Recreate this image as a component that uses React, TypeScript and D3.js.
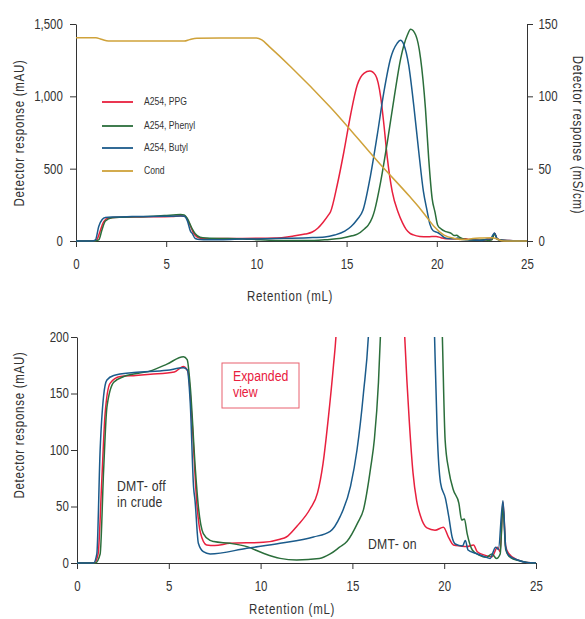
import React, { useEffect, useRef } from 'react';
import * as d3 from 'd3';

type Pt = [number, number];

// retention (mL), response (mAU)
const ppg: Pt[] = [
  [0, 0], [0.95, 0], [1.15, 8], [1.35, 73], [1.53, 132], [1.8, 159], [2.35, 165], [3.2, 166],
  [4.0, 167], [5.3, 169], [5.8, 174], [6.05, 169], [6.26, 127], [6.54, 50], [6.72, 27], [7.06, 16],
  [7.5, 15.5], [8.33, 17.4], [10.15, 18.3], [11.06, 21], [11.4, 23], [12.0, 33], [12.7, 48],
  [13.1, 62], [13.4, 88], [13.7, 130], [13.97, 175], [14.11, 202], [14.48, 387], [14.85, 617],
  [15.22, 871], [15.59, 1078], [15.96, 1159], [16.29, 1175], [16.6, 1147], [16.9, 986],
  [17.07, 802], [17.26, 571], [17.53, 341], [17.85, 200], [18.1, 125], [18.3, 80], [18.5, 55],
  [18.7, 42], [19.06, 31], [19.5, 29], [19.96, 31.6], [20.23, 23], [20.5, 16], [20.9, 15],
  [21.25, 14.5], [21.6, 16], [21.8, 10], [22.2, 7], [22.6, 5.6], [22.9, 14], [23.05, 10],
  [23.2, 54], [23.35, 15], [23.5, 8.8], [24.0, 2.7], [24.5, 0.5], [25, 0],
];

const phenyl: Pt[] = [
  [0, 0], [1.0, 0], [1.26, 8], [1.45, 82], [1.63, 138], [2.0, 160], [2.55, 165], [4.0, 170],
  [4.9, 176], [5.8, 182.6], [6.0, 180], [6.17, 156], [6.45, 82], [6.61, 50], [6.88, 26],
  [7.25, 20], [7.45, 19], [8.33, 17.4], [9.25, 14.5], [10.15, 8.6], [11.06, 4.1], [11.97, 2.7],
  [13.2, 4], [13.79, 8], [14.3, 14], [14.7, 19], [15.3, 36], [15.6, 47], [16.0, 85], [16.2, 110],
  [16.42, 160], [16.55, 210], [16.89, 410], [17.26, 686], [17.63, 986], [18.0, 1263],
  [18.37, 1424], [18.55, 1463], [18.83, 1424], [19.1, 1263], [19.37, 917], [19.55, 571],
  [19.74, 295], [19.9, 200], [20.05, 109], [20.25, 82], [20.5, 64.6], [20.8, 52.8], [20.95, 38],
  [21.1, 39], [21.25, 26], [21.53, 11.5], [21.9, 7], [22.3, 5], [22.6, 8], [22.85, 4],
  [23.05, 8], [23.2, 50], [23.35, 12], [23.6, 5], [24.1, 2], [24.6, 0.3], [25, 0],
];

const butyl: Pt[] = [
  [0, 0], [0.9, 0], [1.08, 8], [1.26, 100], [1.45, 148], [1.63, 162], [2.0, 166], [3.1, 168.5],
  [4.9, 170.5], [5.8, 172.7], [6.0, 171], [6.17, 141], [6.35, 67], [6.43, 55], [6.61, 17.4],
  [6.88, 10], [7.25, 8], [9.25, 13], [11.06, 17.4], [12.88, 23], [13.79, 28], [14.33, 41],
  [14.9, 68], [15.25, 100], [15.6, 150], [15.9, 210], [16.33, 456], [16.7, 733], [17.07, 1032],
  [17.44, 1263], [17.8, 1366], [17.98, 1387], [18.18, 1355], [18.44, 1217], [18.72, 940],
  [19.0, 617], [19.26, 341], [19.46, 210], [19.62, 115], [19.8, 71], [20.07, 57], [20.25, 41],
  [20.43, 23], [20.6, 16.8], [21.0, 15], [21.15, 20], [21.3, 11.5], [21.7, 8.6], [22.2, 5.6],
  [22.5, 4], [22.8, 14], [22.95, 12], [23.2, 55], [23.35, 14], [23.5, 7], [24.0, 2.7],
  [24.5, 0.5], [25, 0],
];

// conductivity (mS/cm)
const cond: Pt[] = [
  [0, 140.5], [1.1, 140.5], [1.4, 139.5], [1.8, 138.2], [6.0, 138.2], [6.3, 139.2], [6.7, 140.1],
  [8, 140.3], [10, 140.3], [10.3, 139], [10.7, 134.5], [11.9, 120.5], [14.1, 92.5], [16.9, 52.5],
  [18.5, 30.7], [19.1, 22], [19.5, 15.5], [19.85, 10], [20.4, 4.1], [20.96, 1.8], [21.6, 1],
  [22, 1.8], [22.5, 2.1], [23.1, 2.3], [23.3, 1.5], [23.7, 0], [25, 0],
];

const seriesNames = ['A254, PPG', 'A254, Phenyl', 'A254, Butyl', 'Cond'];
const seriesColors = ['#e8203e', '#2b6e3b', '#1b5b8b', '#cfa23a'];

const xTicks = [0, 5, 10, 15, 20, 25];
const topTicks = [0, 500, 1000, 1500];
const condTicks = [0, 50, 100, 150];
const bottomTicks = [0, 50, 100, 150, 200];

// Liberation Sans squeezed horizontally to stand in for a condensed face
const FONT = '"Liberation Sans", Arial, sans-serif';
const SQ = 0.82;
const INK = '#333';

const App = () => {
  const ref = useRef<SVGSVGElement>(null);

  useEffect(() => {
    const svg = d3.select(ref.current);
    svg.selectAll('*').remove();

    const styleAxis = (g: d3.Selection<SVGGElement, unknown, null, undefined>) => {
      g.attr('font-family', FONT).attr('font-size', 14);
      g.selectAll('path, line').attr('stroke', INK);
      g.selectAll('text').attr('fill', INK).attr('transform', `scale(${SQ},1)`);
    };

    const line = (x: d3.ScaleLinear<number, number>, y: d3.ScaleLinear<number, number>) =>
      d3.line<Pt>().x((d) => x(d[0])).y((d) => y(d[1])).curve(d3.curveMonotoneX);

    const label = (x: number, y: number, rot: number, text: string, size: number, color = INK, spacing = 0, anchor = 'start') =>
      svg
        .append('text')
        .attr('transform', `translate(${x},${y}) rotate(${rot}) scale(${SQ},1)`)
        .attr('text-anchor', anchor)
        .attr('dominant-baseline', 'middle')
        .attr('font-family', FONT)
        .attr('font-size', size)
        .attr('letter-spacing', spacing)
        .attr('fill', color)
        .text(text);

    const title = (x: number, y: number, rot: number, text: string) =>
      label(x, y, rot, text, 14, INK, 0.9, 'middle');

    // ---- top chart ----
    const x1 = d3.scaleLinear().domain([0, 25]).range([76, 527]);
    const y1 = d3.scaleLinear().domain([0, 1500]).range([241, 24]);
    const y1r = d3.scaleLinear().domain([0, 150]).range([241, 24]);

    svg.append('g').attr('transform', 'translate(0,241)')
      .call(d3.axisBottom(x1).tickValues(xTicks).tickSize(6).tickSizeOuter(0).tickPadding(12))
      .call(styleAxis);
    svg.append('g').attr('transform', 'translate(76,0)')
      .call(d3.axisLeft(y1).tickValues(topTicks).tickFormat(d3.format(',')).tickSize(6).tickSizeOuter(0).tickPadding(10))
      .call(styleAxis);
    svg.append('g').attr('transform', 'translate(527,0)')
      .call(d3.axisRight(y1r).tickValues(condTicks).tickSize(6).tickSizeOuter(0).tickPadding(8))
      .call(styleAxis);

    const top = svg.append('g').attr('fill', 'none').attr('stroke-width', 1.5);
    [ppg, phenyl, butyl].forEach((s, i) => {
      top.append('path').attr('d', line(x1, y1)(s)).attr('stroke', seriesColors[i]);
    });
    top.append('path').attr('d', line(x1, y1r)(cond)).attr('stroke', seriesColors[3]);

    seriesNames.forEach((name, i) => {
      const ly = [102, 126, 148, 171][i];
      svg.append('line').attr('x1', 102).attr('x2', 133).attr('y1', ly).attr('y2', ly)
        .attr('stroke', seriesColors[i]).attr('stroke-width', 1.8);
      label(144, ly, 0, name, 10.5);
    });

    title(20, 133, -90, 'Detector response (mAU)');
    title(577, 135, 90, 'Detector response (mS/cm)');
    title(290, 297, 0, 'Retention (mL)');

    // ---- bottom chart (expanded) ----
    const x2 = d3.scaleLinear().domain([0, 25]).range([77, 536]);
    const y2 = d3.scaleLinear().domain([0, 200]).range([563, 337]);

    svg.append('g').attr('transform', 'translate(0,563)')
      .call(d3.axisBottom(x2).tickValues(xTicks).tickSize(6).tickSizeOuter(0).tickPadding(12.5))
      .call(styleAxis);
    svg.append('g').attr('transform', 'translate(77,0)')
      .call(d3.axisLeft(y2).tickValues(bottomTicks).tickSize(6).tickSizeOuter(0).tickPadding(4))
      .call(styleAxis);

    svg.append('clipPath').attr('id', 'clip-exp')
      .append('rect').attr('x', 77).attr('y', 337).attr('width', 470).attr('height', 230);
    const bottom = svg.append('g').attr('clip-path', 'url(#clip-exp)')
      .attr('fill', 'none').attr('stroke-width', 1.5);
    [ppg, phenyl, butyl].forEach((s, i) => {
      bottom.append('path').attr('d', line(x2, y2)(s)).attr('stroke', seriesColors[i]);
    });

    svg.append('rect').attr('x', 222).attr('y', 363).attr('width', 77).attr('height', 45)
      .attr('fill', 'none').attr('stroke', '#e8606e').attr('stroke-width', 1);
    label(233, 377, 0, 'Expanded', 15, '#e8203e');
    label(233, 393, 0, 'view', 15, '#e8203e');
    label(117, 487, 0, 'DMT- off', 15, INK, 0.3);
    label(117, 503, 0, 'in crude', 15, INK, 0.3);
    label(368, 545, 0, 'DMT- on', 15, INK, 0.3);

    title(20, 425, -90, 'Detector response (mAU)');
    title(292, 610, 0, 'Retention (mL)');
  }, []);

  return (
    <svg
      ref={ref}
      width={585}
      height={619}
      style={{ position: 'absolute', left: 0, top: 0, background: '#fff' }}
    />
  );
};

export default App;
